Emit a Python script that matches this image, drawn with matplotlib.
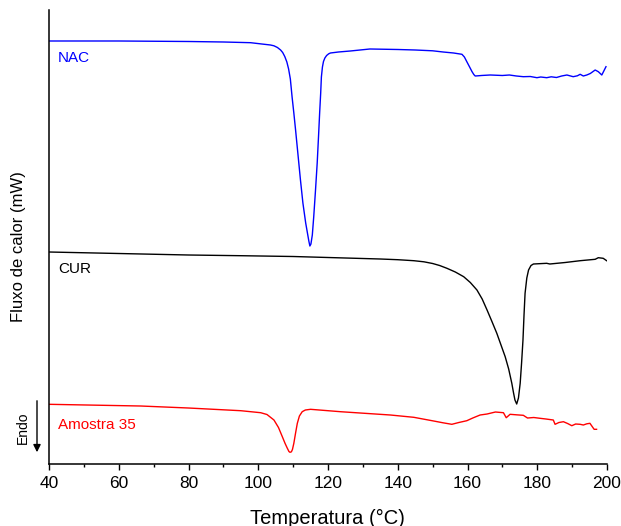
import matplotlib
matplotlib.use('Agg')
import matplotlib.pyplot as plt
from matplotlib.ticker import MultipleLocator
import numpy as np

plt.rcParams['font.family'] = ['Liberation Sans', 'DejaVu Sans']

# curves (heat flow in arbitrary mW offsets)
nacT = [40, 60, 80, 90, 97.8, 101, 103.5, 104.5, 105.5, 106.4, 107.0, 107.6, 108.2, 108.7,
        109.2, 109.7, 110.2, 110.7, 111.4, 112.1, 112.8, 113.6, 114.1, 114.5, 114.8, 115.1,
        115.5, 115.9, 116.4, 116.9, 117.3, 117.6, 117.9, 118.1, 118.4, 118.7, 119.1, 119.6,
        120.2, 120.7, 123, 126.4, 132, 140, 145, 150, 153, 156, 158.4, 159.1, 159.8, 160.6,
        161.3, 161.8, 162.2, 163, 164, 166.5, 170, 172, 174, 176, 178, 179.9, 181, 182.7,
        184, 185.5, 187, 188.5, 190.3, 191.5, 192.3, 193.2, 194.2, 195.2, 196.6, 197.5,
        198.5, 199.7]
nacV = [42.2, 42.2, 42.15, 42.1, 42.03, 41.9, 41.8, 41.72, 41.55, 41.3, 41.05, 40.65, 40.1, 39.4,
        38.4, 36.6, 35.0, 33.3, 30.8, 28.3, 26.0, 24.0, 23.0, 22.2, 21.7, 21.9,
        22.8, 24.6, 27.2, 30.0, 32.8, 35.0, 37.0, 38.6, 39.6, 40.15, 40.5, 40.75,
        40.92, 41.0, 41.1, 41.2, 41.4, 41.35, 41.3, 41.22, 41.1, 41.0, 40.87, 40.6, 40.13, 39.6,
        39.13, 38.85, 38.7, 38.72, 38.75, 38.8, 38.75, 38.8, 38.7, 38.63, 38.65, 38.53, 38.6, 38.53,
        38.62, 38.55, 38.7, 38.8, 38.63, 38.72, 38.87, 38.7, 38.8, 38.95, 39.3, 39.13,
        38.8, 39.63]

curT = [40, 60, 80, 95, 110, 125, 135, 140, 144.6, 147.5, 150, 152, 154.1, 156.5, 158.9, 160.8,
        162.7, 164.2, 165.6, 167, 168.4, 169.6, 170.8, 171.8, 172.7, 173.2, 173.6, 174.1, 174.6,
        175.1, 175.5, 175.9, 176.2, 176.5, 177.0, 177.5, 178.2, 178.9, 182.7, 183.6, 188,
        192.3, 196.6, 197.5, 198.9, 199.9]
curV = [21.1, 20.95, 20.8, 20.73, 20.65, 20.5, 20.4, 20.33, 20.23, 20.12, 19.95, 19.75, 19.47, 19.1,
        18.63, 18.05, 17.3, 16.4, 15.3, 14.15, 12.97, 11.8, 10.63, 9.4, 7.97, 7.0, 6.3, 5.9, 6.5,
        7.97, 10.0, 12.3, 14.8, 16.97, 18.5, 19.3, 19.75, 19.9, 19.97, 19.9, 20.05,
        20.23, 20.37, 20.53, 20.47, 20.23]

amoT = [40, 66.3, 80, 95, 100.7, 102.5, 104.5, 105.8, 106.9, 107.7, 108.3, 108.8, 109.1, 109.5,
        109.8, 110.2, 110.7, 111.2, 111.8, 112.6, 113.5, 115, 123.6, 137.9, 144.6, 150.3, 153,
        155.5, 157.5, 159.8, 161.5, 163.6, 165.6, 168, 170.3, 171.1, 172.2, 174, 176, 177.2,
        179, 180.8, 182.5, 184.6, 185.1, 186.2, 187.5, 188.7, 189.9, 191, 192.3, 193.2, 194.2,
        195.1, 196.3, 197]
amoV = [5.87, 5.7, 5.5, 5.23, 5.03, 4.85, 4.3, 3.55, 2.63, 1.95, 1.5, 1.15, 1.07, 1.12,
        1.35, 1.97, 3.0, 3.97, 4.7, 5.13, 5.3, 5.37, 5.13, 4.8, 4.57, 4.2, 4.02,
        3.87, 4.05, 4.23, 4.5, 4.8, 4.9, 5.1, 5.03, 4.53, 4.87, 4.82, 4.77, 4.5,
        4.55, 4.47, 4.4, 4.3, 3.87, 4.05, 4.13, 3.95, 3.73, 3.9, 3.87, 3.8, 3.92,
        3.97, 3.37, 3.37]

fig = plt.figure(figsize=(6.21, 5.26), dpi=100)
ax = fig.add_axes([0.0789, 0.1188, 0.8986, 0.8622])

ax.plot(nacT, nacV, '-', color='#0000FF', lw=1.0)
ax.plot(curT, curV, '-', color='black', lw=1.0)
ax.plot(amoT, amoV, '-', color='#FF0000', lw=1.0)

ax.text(42.6, 40.13, 'NAC', color='#0000FF', fontsize=11, va='baseline')
ax.text(42.6, 18.97, 'CUR', color='black', fontsize=11, va='baseline')
ax.text(42.6, 3.4, 'Amostra 35', color='#FF0000', fontsize=11, va='baseline')

ax.set_xlim(40, 200)
ax.set_ylim(-0.05, 45.3)
ax.xaxis.set_major_locator(MultipleLocator(20))
ax.xaxis.set_minor_locator(MultipleLocator(10))
ax.tick_params(axis='x', which='major', direction='out', length=4, width=1, labelsize=12.5, pad=5)
ax.tick_params(axis='x', which='minor', direction='out', length=2.5, width=1)
ax.set_yticks([])
ax.spines['top'].set_visible(False)
ax.spines['right'].set_visible(False)
ax.spines['left'].set_linewidth(1.1)
ax.spines['bottom'].set_linewidth(1.1)

fig.text(0.528, 2.5 / 526, 'Temperatura (°C)', fontsize=14.5, ha='center', va='baseline')
fig.text(0.030, (526 - 247) / 526, 'Fluxo de calor (mW)', fontsize=12, rotation=90,
         ha='center', va='center')

# endo arrow
fig.text(0.037, (526 - 428) / 526, 'Endo', fontsize=10, rotation=90, ha='center', va='center')
fig.add_artist(matplotlib.patches.FancyArrowPatch(
    (37 / 621, (526 - 398) / 526), (37 / 621, (526 - 455) / 526),
    transform=fig.transFigure, arrowstyle='-|>', mutation_scale=11, color='black', lw=1))

fig.savefig('out.png', dpi=100)
